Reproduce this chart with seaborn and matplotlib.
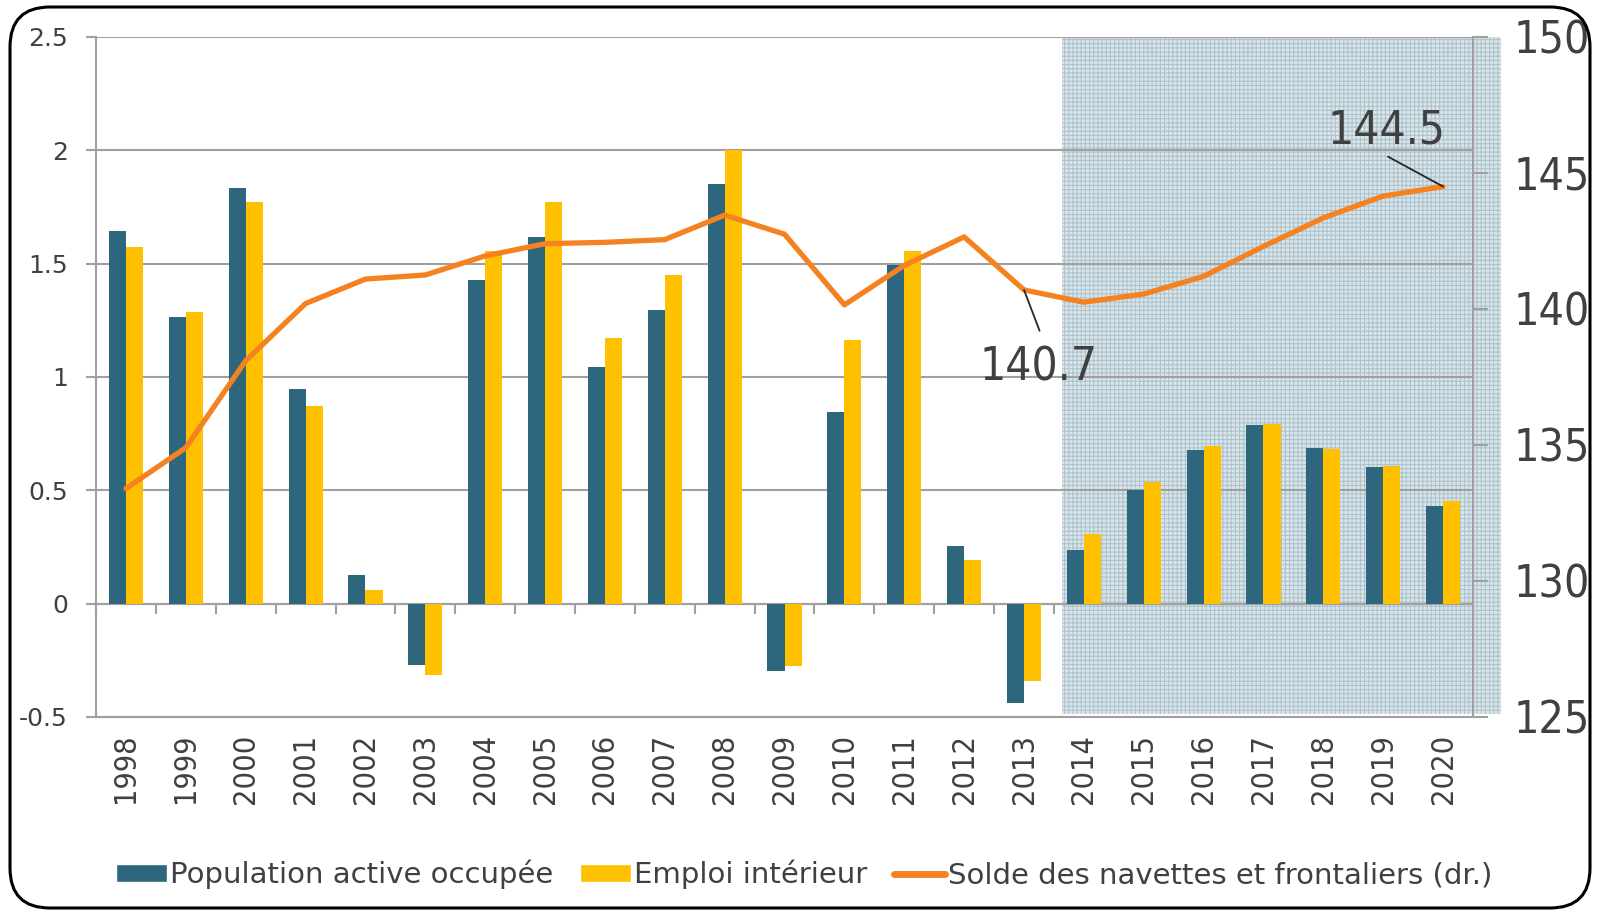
import matplotlib
matplotlib.use('Agg')
import matplotlib.pyplot as plt
import seaborn as sns
import pandas as pd
import numpy as np
from matplotlib import font_manager
from matplotlib.font_manager import FontProperties
from matplotlib.patches import Rectangle, FancyBboxPatch, Patch
from matplotlib.lines import Line2D
from matplotlib.transforms import IdentityTransform


# donnees
annees = ['1998', '1999', '2000', '2001', '2002', '2003', '2004', '2005', '2006', '2007', '2008',
          '2009', '2010', '2011', '2012', '2013', '2014', '2015', '2016', '2017', '2018', '2019', '2020']
pop_active = [1.645, 1.265, 1.833, 0.948, 0.127, -0.270, 1.430, 1.616, 1.046, 1.297, 1.853,
              -0.296, 0.845, 1.493, 0.253, -0.438, 0.237, 0.503, 0.676, 0.788, 0.686, 0.601, 0.431]
emploi_int = [1.572, 1.286, 1.771, 0.871, 0.062, -0.315, 1.556, 1.771, 1.172, 1.449, 2.000,
              -0.275, 1.163, 1.556, 0.191, -0.340, 0.307, 0.536, 0.696, 0.791, 0.681, 0.606, 0.451]
solde = [133.4, 134.9, 138.1, 140.2, 141.1, 141.25, 141.95, 142.4, 142.45, 142.55, 143.45,
         142.75, 140.15, 141.6, 142.65, 140.7, 140.25, 140.55, 141.2, 142.3, 143.35, 144.15, 144.5]
yticks_g = [-0.5, 0, 0.5, 1, 1.5, 2, 2.5]
yticks_d = [125, 130, 135, 140, 145, 150]

noms = ['Population active occupée', 'Emploi intérieur', 'Solde des navettes et frontaliers (dr.)']

bleu = '#2e677d'
jaune = '#ffc000'
orange = '#f58220'
gris = '#a0a0a0'
texte = '#404040'

sns.set_theme(style='white')
plt.rcParams['font.family'] = ['DejaVu Sans']
plt.rcParams['hatch.linewidth'] = 0.8

# police etroite : DejaVu Sans Condensed si elle existe
fichier = font_manager.findfont(FontProperties(family='DejaVu Sans', stretch='condensed'))
if 'Condensed' in fichier:
    pol_etroite = FontProperties(fname=fichier)
else:
    pol_etroite = FontProperties(family='Asap Condensed')

fig = plt.figure(figsize=(15.98, 9.13), dpi=100)
ax = fig.add_axes([0.0601, 0.2147, 0.8617, 0.7448])

df = pd.DataFrame({
    'annee': annees * 2,
    'valeur': pop_active + emploi_int,
    'serie': [noms[0]] * len(annees) + [noms[1]] * len(annees),
})
sns.barplot(data=df, x='annee', y='valeur', hue='serie', palette=[bleu, jaune], saturation=1,
            width=0.57, linewidth=0, legend=False, ax=ax, zorder=2)

# zone de prevision (2014-2020)
i0 = annees.index('2014')
ax.add_patch(Rectangle((i0 - 0.36, -0.485), len(annees) - i0 + 0.33, 2.985,
                       facecolor='#dae5ea', edgecolor='#adc4cd', hatch='++++',
                       linewidth=0, zorder=0.3, clip_on=False))

ax.set_ylim(-0.5, 2.5)
ax.set_yticks(yticks_g)
ax.set_yticklabels([f'{v:g}' for v in yticks_g])
ax.yaxis.grid(True, color=gris, linewidth=1.5)
ax.set_axisbelow(True)
ax.set_xlabel('')
ax.set_ylabel('')
ax.spines['top'].set_visible(False)
ax.spines['right'].set_visible(False)
for s in ['left', 'bottom']:
    ax.spines[s].set_color(gris)
    ax.spines[s].set_linewidth(1.5)
ax.tick_params(axis='y', left=True, length=7.2, width=1.5, color=gris, labelsize=18,
               labelcolor=texte, pad=13)
ax.tick_params(axis='x', length=0, pad=12, labelcolor=texte, rotation=90)
for lab in ax.get_xticklabels():
    lab.set_fontproperties(pol_etroite)
    lab.set_fontsize(22)
    lab.set_va('top')

# axe des categories a zero
sec = ax.secondary_xaxis(1 / 6)
sec.set_xticks(np.arange(len(annees) + 1) - 0.5)
sec.tick_params(axis='x', length=7.2, width=1.5, color=gris, labelbottom=False, direction='out')
sec.spines['bottom'].set_color(gris)
sec.spines['bottom'].set_linewidth(1.5)

# axe de droite
ax2 = ax.twinx()
sns.lineplot(x=np.arange(len(annees)), y=solde, ax=ax2, color=orange, linewidth=3.8)
ax2.set_ylim(125, 150)
ax2.set_yticks(yticks_d)
ax2.set_yticklabels([str(v) for v in yticks_d])
for s in ['top', 'left', 'bottom']:
    ax2.spines[s].set_visible(False)
ax2.spines['right'].set_color(gris)
ax2.spines['right'].set_linewidth(1.5)
ax2.tick_params(axis='y', right=True, length=11, width=1.5, color=gris,
                labelcolor=texte, pad=18)
for lab in ax2.get_yticklabels():
    lab.set_fontproperties(pol_etroite)
    lab.set_fontsize(32)
ax2.set_ylabel('')
ax.set_xlim(-0.5, len(annees) - 0.5)

# etiquettes
k = annees.index('2013')
ax2.annotate('', xy=(k, solde[k]), xytext=(k + 0.26, solde[k] - 1.5),
             arrowprops=dict(arrowstyle='-', color='#262626', lw=1.3, shrinkA=0, shrinkB=0))
ax2.text(k + 0.25, solde[k] - 3.33, f'{solde[k]:.1f}', ha='center', va='baseline',
         fontproperties=pol_etroite, fontsize=33, color=texte)
k = annees.index('2020')
ax2.annotate('', xy=(k, solde[k]), xytext=(k - 0.92, solde[k] + 1.1),
             arrowprops=dict(arrowstyle='-', color='#262626', lw=1.3, shrinkA=0, shrinkB=0))
ax2.text(k + 0.04, solde[k] + 1.6, f'{solde[k]:.1f}', ha='right', va='baseline',
         fontproperties=pol_etroite, fontsize=33, color=texte)

# legende
poignees = [Patch(facecolor=bleu), Patch(facecolor=jaune), Line2D([], [], color=orange, lw=5)]
fig.legend(poignees, noms, loc='center', bbox_to_anchor=(0.503, 0.042), ncol=3, frameon=False,
           fontsize=21, labelcolor=texte, handlelength=1.75, handleheight=0.6,
           handletextpad=0.1, columnspacing=0.92)

# cadre arrondi
fig.add_artist(FancyBboxPatch((10, 5), 1580, 901, boxstyle='round,pad=0,rounding_size=40',
                              transform=IdentityTransform(), fill=False, edgecolor='black',
                              linewidth=2.2))

fig.savefig('out.png', dpi=100)
plt.close()
